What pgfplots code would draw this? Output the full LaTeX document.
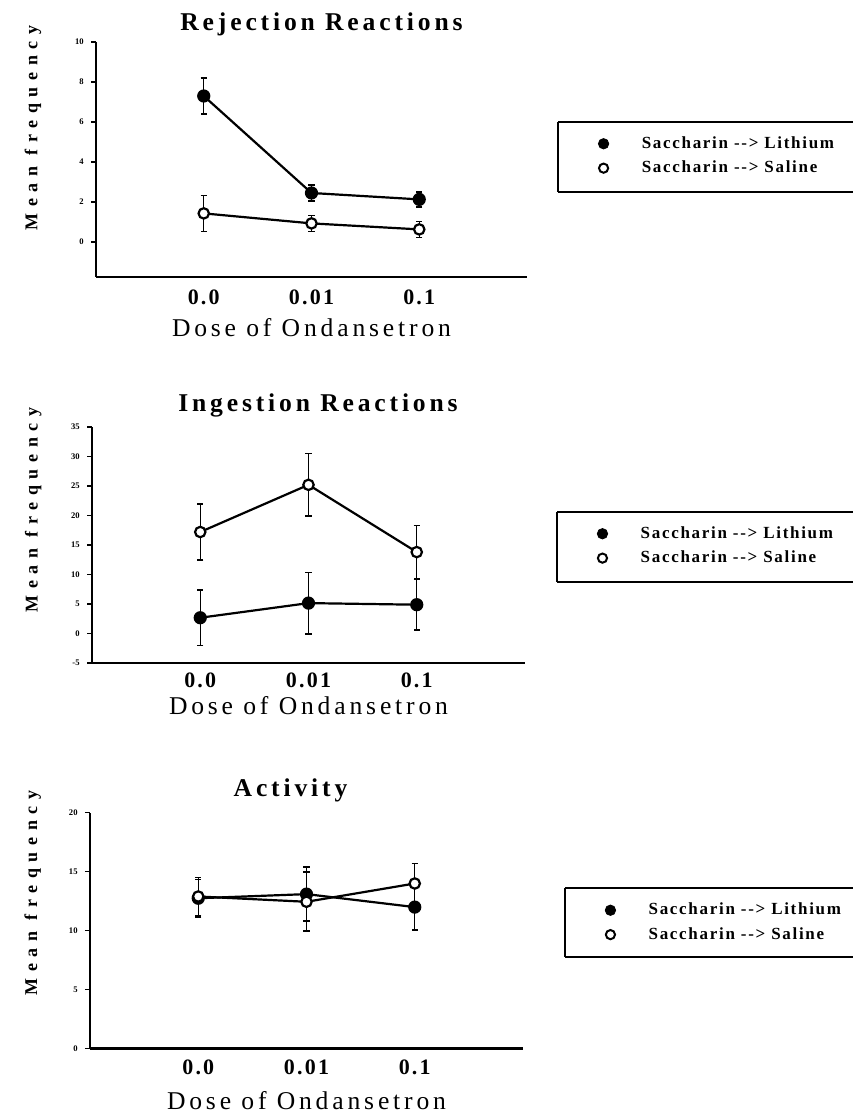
\documentclass[border=0pt]{standalone}
\usepackage{fontspec}
\setmainfont{Liberation Serif}
\usepackage{pgfplots}
\pgfplotsset{compat=1.18}
\newfontfamily\titlefont[LetterSpace=15]{Liberation Serif}
\newfontfamily\ylabfont[LetterSpace=37]{Liberation Serif}
\newfontfamily\tickfont[LetterSpace=10]{Liberation Serif}
\newfontfamily\legfont[LetterSpace=10]{Liberation Serif}

\pgfplotsset{
  myaxis/.style={
    scale only axis, anchor=south west,
    width=216pt, height=118pt,
    xmin=-1, xmax=3,
    axis x line*=bottom, axis y line*=left,
    axis line style={-, line width=1.2pt},
    xtick={0,1,2}, xticklabels={0.0,0.01,0.1},
    x tick style={draw=none},
    xticklabel style={font=\tickfont\bfseries\fontsize{11}{12}\selectfont, anchor=base},
    y tick style={line width=0.8pt, black},
    tick align=outside, major tick length=2.5pt,
    yticklabel style={font=\bfseries\fontsize{4.3}{4.5}\selectfont, inner sep=1pt, xshift=-2.5pt},
    /pgf/number format/assume math mode=true,
    title style={font=\titlefont\bfseries\fontsize{12.8}{14}\selectfont, anchor=base},
    xlabel={Dose of Ondansetron},
    xlabel style={font=\titlefont\fontsize{12.8}{14}\selectfont, anchor=base, at={(axis description cs:0.5,0)}},
    ylabel={Mean frequency},
    ylabel style={font=\ylabfont\bfseries\fontsize{9}{10}\selectfont, anchor=center},
    legend style={draw=none, fill=none, anchor=west, inner sep=0pt, nodes={inner sep=0pt},
      row sep=4.8pt, column sep=16.5pt, font=\legfont\bfseries\fontsize{8.5}{9}\selectfont},
    legend cell align=left,
  },
  lith/.style={black, line width=1.1pt, mark=*, mark size=2.9pt, mark options={solid, fill=black, line width=0.8pt},
    forget plot,
    error bars/.cd, y dir=both, y explicit, error bar style={line width=0.6pt, black},
    error mark options={rotate=90, mark size=1.6pt, line width=0.8pt, black}},
  sal/.style={black, line width=1.1pt, mark=*, mark size=2.6pt, mark options={solid, fill=white, line width=1.1pt},
    forget plot,
    error bars/.cd, y dir=both, y explicit, error bar style={line width=0.6pt, black},
    error mark options={rotate=90, mark size=1.6pt, line width=0.8pt, black}},
  legL/.style={only marks, mark=*, mark size=2.6pt, mark options={fill=black, draw=black}},
  legS/.style={only marks, mark=*, mark size=2.3pt, mark options={fill=white, draw=black, line width=1pt}},
}

\begin{document}
\begin{tikzpicture}
% ---------- Panel 1: Rejection Reactions ----------
\begin{axis}[myaxis, at={(48pt,421pt)}, width=215.5pt, height=117.5pt,
  ymin=-1.75, ymax=10, ytick={0,2,...,10},
  title={Rejection Reactions},
  title style={at={(axis description cs:0.5,1)}, yshift=-0.25pt, xshift=5pt},
  xticklabel style={yshift=-11.25pt},
  xlabel style={yshift=-30pt},
  ylabel style={at={(axis description cs:-0.146,0.634)}},
  legend style={at={(axis description cs:1.1647,0.515)}},
]
\addplot[lith] coordinates {(0,7.3) +- (0,0.9) (1,2.45) +- (0,0.4) (2,2.13) +- (0,0.38)};
\addplot[sal] coordinates {(0,1.43) +- (0,0.9) (1,0.93) +- (0,0.4) (2,0.63) +- (0,0.4)};
\addlegendimage{legL}\addlegendentry{Saccharin --> Lithium}
\addlegendimage{legS}\addlegendentry{Saccharin --> Saline}
\end{axis}
\draw[line width=0.6pt] (279pt,498.5pt) -- (279pt,463.5pt);
\draw[line width=1.2pt] (279pt,463.5pt) -- (460pt,463.5pt);
\draw[line width=0.6pt] (279pt,498.5pt) -- (460pt,498.5pt);

% ---------- Panel 2: Ingestion Reactions ----------
\begin{axis}[myaxis, at={(46pt,228pt)}, width=216.5pt, height=118pt,
  ymin=-5, ymax=35, ytick={-5,0,...,35},
  title={Ingestion Reactions},
  title style={at={(axis description cs:0.5,1)}, yshift=1.75pt, xshift=4.75pt},
  xticklabel style={yshift=-9.75pt},
  xlabel style={yshift=-26pt},
  ylabel style={at={(axis description cs:-0.136,0.648)}},
  legend style={at={(axis description cs:1.166,0.496)}},
]
\addplot[sal] coordinates {(0,17.2) +- (0,4.7) (1,25.2) +- (0,5.3) (2,13.8) +- (0,4.5)};
\addplot[lith] coordinates {(0,2.67) +- (0,4.7) (1,5.15) +- (0,5.2) (2,4.88) +- (0,4.3)};
\addlegendimage{legL}\addlegendentry{Saccharin --> Lithium}
\addlegendimage{legS}\addlegendentry{Saccharin --> Saline}
\end{axis}
\draw[line width=0.6pt] (278.5pt,303.5pt) -- (278.5pt,268.5pt);
\draw[line width=1.2pt] (278.5pt,268.5pt) -- (460pt,268.5pt);
\draw[line width=0.6pt] (278.5pt,303.5pt) -- (460pt,303.5pt);

% ---------- Panel 3: Activity ----------
\begin{axis}[myaxis, at={(45pt,35.15pt)}, width=216.5pt, height=118pt,
  ymin=0, ymax=20, ytick={0,5,...,20},
  title={Activity},
  title style={at={(axis description cs:0.5,1)}, yshift=2pt, xshift=-8pt},
  xticklabel style={yshift=-10.4pt},
  xlabel style={yshift=-30.4pt},
  ylabel style={at={(axis description cs:-0.132,0.66)}},
  legend style={at={(axis description cs:1.189,0.535)}},
]
\addplot[lith] coordinates {(0,12.75) +- (0,1.6) (1,13.1) +- (0,2.3) (2,12.0) +- (0,1.95)};
\addplot[sal] coordinates {(0,12.9) +- (0,1.6) (1,12.45) +- (0,2.5) (2,14.0) +- (0,1.7)};
\addlegendimage{legL}\addlegendentry{Saccharin --> Lithium}
\addlegendimage{legS}\addlegendentry{Saccharin --> Saline}
\end{axis}
\draw[line width=0.6pt] (282.5pt,115.5pt) -- (282.5pt,81pt);
\draw[line width=1.2pt] (282.5pt,81pt) -- (460pt,81pt);
\draw[line width=0.6pt] (282.5pt,115.5pt) -- (460pt,115.5pt);

\pgfresetboundingbox
\path[use as bounding box] (0pt,0pt) rectangle (426pt,559.5pt);
\end{tikzpicture}
\end{document}
